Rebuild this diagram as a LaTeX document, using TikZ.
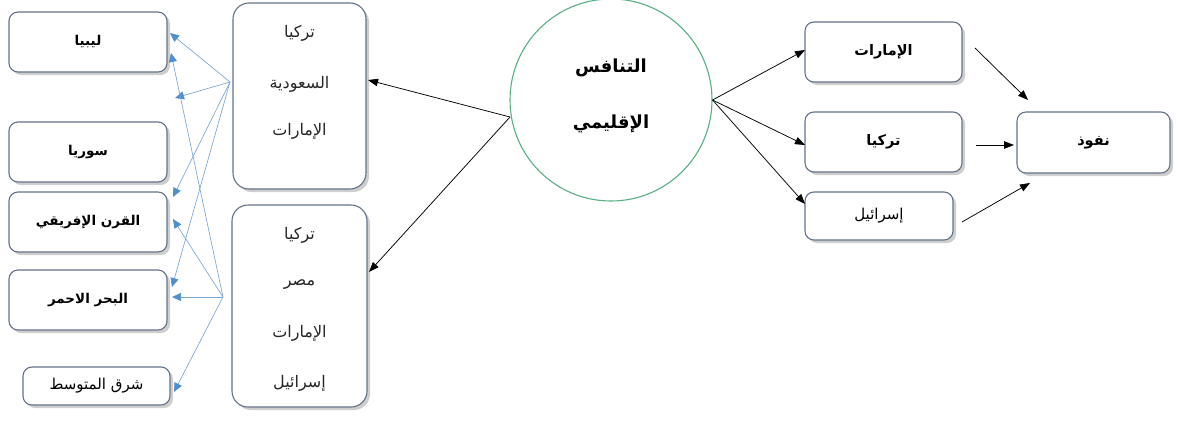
\documentclass[tikz,border=0pt]{standalone}
\usepackage{fontspec}
\TeXXeTstate=1
\newfontfamily\arabicfont[Script=Arabic]{DejaVu Sans}
\usetikzlibrary{shadows,arrows.meta}
\newcommand\ARtxt[1]{\arabicfont\beginR#1\endR}
\definecolor{boxline}{RGB}{100,114,136}
\definecolor{circline}{RGB}{90,176,132}
\definecolor{bline}{RGB}{122,164,210}
\definecolor{bhead}{RGB}{80,142,204}
\begin{document}
\begin{tikzpicture}[x=1pt,y=-1pt,
  box/.style={draw=boxline, line width=1.1pt, fill=white, rounded corners=9pt, inner sep=0pt,
    drop shadow={shadow xshift=3pt, shadow yshift=-3pt, fill=black!32, opacity=0.6}},
  tall/.style={box, rounded corners=16pt},
  lbl/.style={font=\fontsize{13.5}{16}\selectfont\bfseries},
  lblr/.style={font=\fontsize{15}{18}\selectfont},
  rlbl/.style={font=\fontsize{14.5}{17}\selectfont\bfseries},
  mid/.style={inner sep=0pt, font=\fontsize{16}{19}\selectfont, text=black!85},
  big/.style={inner sep=0pt, font=\fontsize{18}{21}\selectfont\bfseries},
  blk/.style={draw=black, line width=0.75pt, -{Triangle[length=10pt,width=7.5pt]}},
  blu/.style={draw=bline, line width=0.65pt, -{Triangle[length=9pt,width=8pt,fill=bhead,color=bhead]}}
]
\useasboundingbox (0,0) rectangle (1180,423);

% left boxes
\node[box, lbl, minimum width=158, minimum height=60] (libya) at (88,42) {\ARtxt{ليبيا}};
\node[box, lbl, minimum width=158, minimum height=60] (syria) at (88,152) {\ARtxt{سوريا}};
\node[box, lbl, minimum width=158, minimum height=60] (horn) at (88,222) {\ARtxt{القرن الإفريقي}};
\node[box, lbl, minimum width=158, minimum height=60] (red) at (88,300) {\ARtxt{البحر الاحمر}};
\node[box, lblr, minimum width=147, minimum height=38] (med) at (96.5,386) {\ARtxt{شرق المتوسط}};

% middle boxes
\node[tall, minimum width=133, minimum height=186] (mtop) at (299.5,96) {};
\node[tall, minimum width=135, minimum height=202] (mbot) at (299.5,306) {};
\node[mid] (mt1) at (299.5,33) {\ARtxt{تركيا}};
\node[mid] (mt2) at (299.5,84) {\ARtxt{السعودية}};
\node[mid] (mt3) at (299.5,131) {\ARtxt{الإمارات}};
\node[mid] (mb1) at (299.5,235) {\ARtxt{تركيا}};
\node[mid] (mb2) at (299.5,285) {\ARtxt{مصر}};
\node[mid] (mb3) at (299.5,333) {\ARtxt{الإمارات}};
\node[mid] (mb4) at (299.5,383) {\ARtxt{إسرائيل}};

% circle
\node[circle, draw=circline, line width=1.1pt, fill=white, minimum size=202, inner sep=0pt] (circ) at (611,100) {};
\node[big] (c1) at (611,68) {\ARtxt{التنافس}};
\node[big] (c2) at (611,124) {\ARtxt{الإقليمي}};

% right boxes
\node[box, rlbl, minimum width=157, minimum height=60] (emir) at (883.5,52) {\ARtxt{الإمارات}};
\node[box, rlbl, minimum width=157, minimum height=60] (turk) at (883.5,142) {\ARtxt{تركيا}};
\node[box, lblr, minimum width=148, minimum height=48] (isr) at (879,216) {\ARtxt{إسرائيل}};
\node[box, rlbl, minimum width=153, minimum height=61] (nfz) at (1093.5,142.5) {\ARtxt{نفوذ}};

% coordinates
\coordinate (cl) at (510,117);
\coordinate (a1) at (368,80);
\coordinate (a2) at (369,272);
\coordinate (r1) at (805,50);
\coordinate (r2) at (805,145);
\coordinate (r3) at (805,204);
\coordinate (n1s) at (975,48);
\coordinate (n1e) at (1028,100);
\coordinate (n2s) at (976,145);
\coordinate (n2e) at (1014,145);
\coordinate (n3s) at (962,222);
\coordinate (n3e) at (1030,183);

\draw[blk] (cl) -- (a1);
\draw[blk] (cl) -- (a2);
\draw[blk] (circ.east) -- (r1);
\draw[blk] (circ.east) -- (r2);
\draw[blk] (circ.east) -- (r3);
\draw[blk] (n1s) -- (n1e);
\draw[blk] (n2s) -- (n2e);
\draw[blk] (n3s) -- (n3e);

% blue fan
\coordinate (T) at (230,82);
\coordinate (B) at (223,297);
\coordinate (e1) at (170,33);
\coordinate (e2) at (175,98);
\coordinate (e3) at (173,197);
\coordinate (e4) at (172,287);
\coordinate (f1) at (171,53);
\coordinate (f2) at (173,219);
\coordinate (f3) at (172,297);
\coordinate (f4) at (174,392);
\draw[blu] (T) -- (e1);
\draw[blu] (T) -- (e2);
\draw[blu] (T) -- (e3);
\draw[blu] (T) -- (e4);
\draw[blu] (B) -- (f1);
\draw[blu] (B) -- (f2);
\draw[blu] (B) -- (f3);
\draw[blu] (B) -- (f4);
\end{tikzpicture}
\end{document}
